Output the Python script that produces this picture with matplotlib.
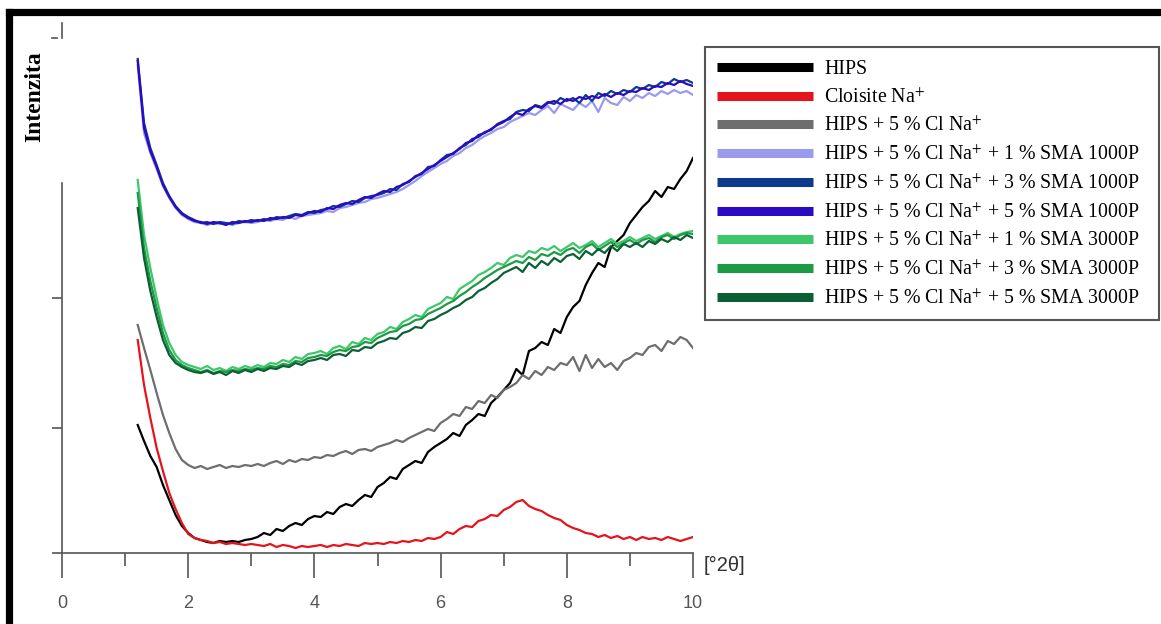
import numpy as np
import matplotlib
matplotlib.use("Agg")
import matplotlib.pyplot as plt
from matplotlib.lines import Line2D
from matplotlib.patches import Rectangle

plt.rcParams['mathtext.fontset'] = 'stix'

# two-theta grid (degrees), 1.2 .. 10.0 step 0.1
two_theta = np.round(np.arange(1.2, 10.0001, 0.1), 2)

hips = [128, 112, 97, 86, 68, 53, 38, 27, 20,
        15, 13, 11, 10, 12, 11, 12, 11, 13, 14,
        16, 20, 18, 24, 22, 27, 30, 28, 34, 37,
        36, 41, 39, 46, 49, 47, 53, 58, 56, 66,
        70, 76, 74, 84, 88, 92, 90, 101, 106, 110,
        114, 120, 117, 128, 133, 139, 137, 150, 156, 163,
        170, 184, 178, 202, 205, 211, 208, 224, 220, 236,
        246, 252, 268, 280, 290, 286, 306, 312, 318, 330,
        338, 346, 352, 362, 356, 366, 364, 374, 382, 395]

cloisite = [213, 168, 135, 105, 82, 60, 44, 30, 19,
            15, 13, 12, 10, 11, 9, 10, 9, 8, 9,
            8, 7, 9, 6, 8, 7, 5, 7, 6, 7,
            8, 6, 8, 7, 9, 8, 7, 10, 9, 10,
            9, 11, 10, 12, 11, 13, 12, 15, 14, 16,
            21, 19, 24, 27, 26, 32, 34, 38, 37, 43,
            46, 51, 53, 47, 44, 42, 38, 35, 33, 28,
            25, 23, 20, 19, 16, 18, 15, 17, 14, 16,
            13, 16, 14, 15, 13, 16, 14, 12, 14, 16]

hips_cl = [228, 205, 183, 160, 138, 120, 104, 93, 88,
           85, 87, 84, 86, 88, 85, 87, 86, 88, 87,
           89, 87, 90, 92, 89, 93, 91, 94, 93, 96,
           95, 98, 97, 100, 102, 99, 103, 104, 102, 106,
           108, 110, 113, 111, 115, 118, 121, 124, 122, 130,
           134, 139, 137, 146, 144, 152, 150, 158, 155, 163,
           166, 170, 178, 174, 182, 178, 186, 183, 190, 188,
           196, 182, 198, 185, 194, 186, 190, 183, 192, 195,
           200, 198, 206, 208, 202, 212, 209, 216, 213, 205]

sma1000_1 = [488, 420, 400, 384, 367, 355, 345, 338, 334,
             331, 330, 328, 330, 329, 330, 328, 330, 331, 330,
             331, 333, 332, 334, 333, 336, 334, 337, 338, 339,
             340, 342, 341, 345, 346, 348, 350, 351, 354, 355,
             357, 359, 361, 364, 368, 372, 377, 381, 385, 389,
             392, 397, 400, 405, 408, 413, 417, 420, 424, 426,
             431, 434, 437, 440, 438, 443, 447, 440, 449, 446,
             443, 450, 446, 452, 441, 455, 450, 448, 456, 452,
             458, 455, 460, 457, 462, 459, 463, 460, 462, 458]

sma1000_3 = [494, 430, 405, 388, 370, 357, 347, 340, 336,
             333, 330, 331, 329, 331, 330, 329, 332, 331, 333,
             332, 334, 333, 336, 335, 337, 339, 338, 341, 340,
             343, 344, 347, 346, 349, 352, 351, 355, 357, 358,
             360, 364, 363, 369, 371, 377, 379, 386, 387, 393,
             398, 399, 405, 408, 414, 416, 421, 423, 429, 432,
             434, 441, 443, 442, 448, 446, 451, 449, 455, 452,
             455, 450, 458, 452, 460, 457, 462, 459, 463, 461,
             466, 464, 468, 466, 471, 469, 474, 471, 473, 470]

sma1000_5 = [492, 425, 402, 386, 368, 356, 346, 339, 335,
             332, 331, 329, 331, 330, 328, 331, 330, 332, 331,
             333, 332, 335, 334, 336, 335, 338, 337, 340, 342,
             341, 345, 344, 348, 350, 349, 353, 356, 355, 359,
             362, 361, 366, 368, 372, 376, 380, 384, 388, 392,
             396, 400, 404, 410, 412, 418, 420, 424, 428, 431,
             436, 440, 438, 444, 447, 445, 450, 452, 449, 454,
             452, 456, 454, 457, 455, 459, 456, 460, 458, 462,
             461, 465, 463, 467, 466, 470, 468, 472, 469, 467]

sma3000_1 = [373, 318, 285, 255, 228, 210, 198, 191, 188,
             186, 184, 187, 183, 185, 182, 186, 184, 187, 185,
             188, 186, 190, 189, 193, 191, 196, 194, 199, 200,
             202, 199, 205, 207, 204, 211, 209, 215, 213, 219,
             221, 226, 224, 231, 234, 238, 236, 244, 247, 250,
             256, 254, 264, 268, 272, 278, 281, 285, 290, 288,
             295, 298, 296, 302, 300, 305, 303, 307, 302, 306,
             310, 305, 308, 312, 306, 310, 314, 309, 312, 316,
             312, 315, 318, 314, 317, 320, 316, 319, 321, 322]

sma3000_3 = [360, 305, 272, 245, 220, 203, 193, 188, 185,
             183, 181, 183, 180, 182, 181, 183, 182, 184, 183,
             185, 184, 187, 186, 189, 188, 192, 191, 195, 196,
             198, 197, 201, 203, 202, 206, 207, 211, 210, 215,
             218, 221, 222, 227, 229, 233, 234, 239, 242, 245,
             249, 252, 257, 261, 266, 270, 275, 279, 283, 286,
             289, 292, 290, 296, 293, 299, 297, 301, 298, 303,
             305, 300, 306, 309, 303, 307, 311, 306, 310, 313,
             309, 313, 315, 311, 316, 318, 314, 318, 320, 319]

sma3000_5 = [345, 295, 262, 236, 213, 198, 190, 186, 183,
             181, 180, 182, 179, 181, 178, 182, 180, 183, 181,
             184, 182, 185, 184, 187, 186, 190, 188, 192, 193,
             195, 193, 198, 199, 197, 203, 202, 206, 205, 210,
             212, 215, 214, 220, 222, 226, 225, 232, 234, 238,
             241, 245, 248, 253, 256, 262, 265, 270, 274, 280,
             283, 286, 281, 290, 285, 292, 288, 295, 291, 297,
             299, 294, 302, 298, 304, 300, 307, 302, 309, 306,
             310, 306, 312, 309, 314, 311, 316, 313, 318, 315]

labels = ["HIPS",
          "Cloisite Na$^{+}$",
          "HIPS + 5 % Cl Na$^{+}$",
          "HIPS + 5 % Cl Na$^{+}$ + 1 % SMA 1000P",
          "HIPS + 5 % Cl Na$^{+}$ + 3 % SMA 1000P",
          "HIPS + 5 % Cl Na$^{+}$ + 5 % SMA 1000P",
          "HIPS + 5 % Cl Na$^{+}$ + 1 % SMA 3000P",
          "HIPS + 5 % Cl Na$^{+}$ + 3 % SMA 3000P",
          "HIPS + 5 % Cl Na$^{+}$ + 5 % SMA 3000P"]
series = [hips, cloisite, hips_cl, sma1000_1, sma1000_3, sma1000_5,
          sma3000_1, sma3000_3, sma3000_5]
colors = ['#000000', '#E3141C', '#6E6E6E', '#9A9AEE', '#0B3A8F', '#2B0BC2',
          '#3CC86A', '#1E9A45', '#0C5F34']

x_ticks = [0, 2, 4, 6, 8, 10]
x_minor = [1, 3, 5, 7, 9]
y_ticks = [0, 125, 255]

W, H = 1161, 624
fig = plt.figure(figsize=(W / 100, H / 100), dpi=100)
ax = fig.add_axes([62 / W, 1 - 553 / H, (693 - 62) / W, (553 - 23) / H])

for ys, c in zip(series, colors):
    ax.plot(two_theta, ys, color=c, lw=1.6, solid_joinstyle='round')

ax.set_xlim(0, 10)
ax.set_ylim(0, 530)
for s in ['top', 'right']:
    ax.spines[s].set_visible(False)
axc = '#555555'
ax.spines['bottom'].set_color(axc)
ax.spines['left'].set_color(axc)
ax.spines['bottom'].set_linewidth(1.2)
ax.spines['left'].set_linewidth(1.2)
ax.spines['left'].set_bounds(0, 370)

ax.set_xticks(x_ticks)
ax.set_xticks(x_minor, minor=True)
ax.set_yticks(y_ticks)
ax.set_yticklabels([])
ax.tick_params(axis='x', which='major', length=18, width=1.2, color=axc,
               labelsize=13, labelcolor='#555555', pad=12)
ax.tick_params(axis='x', which='minor', length=9, width=1.2, color=axc)
ax.tick_params(axis='y', which='major', length=7, width=1.2, color=axc)
for t in ax.get_xticklabels():
    t.set_fontfamily('Liberation Sans')

# broken top fragment of y axis
ax.plot([0, 0], [515, 530], color=axc, lw=1.2, clip_on=False)
ax.plot([-0.16, -0.08], [515, 515], color=axc, lw=1.2, clip_on=False)

fig.text(704 / W, 1 - 565 / H, "[°2θ]", fontsize=14.5, color='#333333',
         family='Liberation Sans', ha='left', va='center')
fig.text(35 / W, 1 - 97 / H, "Intenzita", fontsize=17, fontweight='bold',
         family='Liberation Serif', rotation=90, ha='center', va='center')

handles = [Line2D([], [], color=c, lw=6.5, solid_capstyle='butt') for c in colors]
leg = fig.legend(handles, labels, loc='upper left',
                 bbox_to_anchor=(705 / W, 1 - 48 / H),
                 prop={'family': 'Liberation Serif', 'size': 14.3},
                 handlelength=4.85, handletextpad=0.55, labelspacing=0.46,
                 borderpad=0.6, frameon=False, borderaxespad=0)

# legend frame box
fig.add_artist(Rectangle((705 / W, 1 - 320 / H), (1159 - 705) / W, (320 - 47) / H,
                         transform=fig.transFigure, fill=False,
                         edgecolor='#555555', lw=1.5))

# thick black frame (left and top edges)
fig.add_artist(Line2D([8.5 / W, 8.5 / W], [0, 1 - 11.5 / H], color='black',
                      lw=5.2, transform=fig.transFigure, solid_capstyle='projecting'))
fig.add_artist(Line2D([8.5 / W, 1.01], [1 - 11.5 / H, 1 - 11.5 / H], color='black',
                      lw=5.2, transform=fig.transFigure, solid_capstyle='projecting'))

fig.savefig("out.png", dpi=100)
